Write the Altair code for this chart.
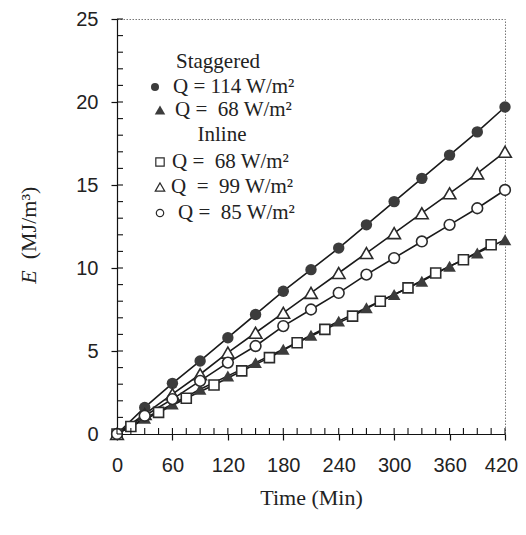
import altair as alt
import pandas as pd

# ---- data ----
t30 = [0, 30, 60, 90, 120, 150, 180, 210, 240, 270, 300, 330, 360, 390, 420]
t15 = [0, 15, 45, 75, 105, 135, 165, 195, 225, 255, 285, 315, 345, 375, 405]

stag_114 = [0, 1.6, 3.05, 4.4, 5.8, 7.2, 8.6, 9.9, 11.2, 12.6, 14.0, 15.4, 16.8, 18.2, 19.7]
stag_68 = [0, 0.95, 1.8, 2.7, 3.5, 4.3, 5.1, 5.95, 6.8, 7.6, 8.4, 9.2, 10.1, 10.9, 11.7]
inl_68 = [0, 0.45, 1.3, 2.15, 2.95, 3.8, 4.6, 5.5, 6.3, 7.1, 8.0, 8.8, 9.7, 10.5, 11.4]
inl_99 = [0, 1.2, 2.4, 3.6, 4.9, 6.1, 7.3, 8.5, 9.7, 10.9, 12.1, 13.3, 14.5, 15.7, 17.0]
inl_85 = [0, 1.1, 2.1, 3.2, 4.3, 5.3, 6.5, 7.5, 8.5, 9.6, 10.6, 11.6, 12.6, 13.6, 14.7]

x_ticks = [0, 60, 120, 180, 240, 300, 360, 420]
y_ticks = [0, 5, 10, 15, 20, 25]
x_minor = list(range(0, 421, 15))
y_minor = list(range(0, 26, 1))

legend_heads = ["Staggered", "Inline"]
legend_labels = ["Q = 114 W/m²", "Q =\u00a0 68 W/m²", "Q =\u00a0 68 W/m²",
                 "Q \u00a0=\u00a0 99 W/m²", "Q =\u00a0 85 W/m²"]

series = [
    ("s114", t30, stag_114, "circle", True, 130),
    ("s68", t30, stag_68, "triangle-up", True, 160),
    ("i68", t15, inl_68, "square", False, 100),
    ("i99", t30, inl_99, "triangle-up", False, 160),
    ("i85", t30, inl_85, "circle", False, 115),
]

rows = []
for name, ts, vs, *_ in series:
    for t, v in zip(ts, vs):
        rows.append({"series": name, "t": t, "E": v})
df = pd.DataFrame(rows)

W, H = 388, 415
xs = alt.Scale(domain=[0, 420], nice=False, zero=True)
ys = alt.Scale(domain=[0, 25], nice=False, zero=True)

INK = "#2b2b2b"
SERIF = "Liberation Serif"
SANS = "Liberation Sans"

xaxis = alt.Axis(values=x_ticks, title="Time (Min)", grid=False, tickSize=6,
                 labelPadding=15, labelFlush=False, labelOverlap=False,
                 labelOffset=alt.ExprRef(expr="datum.value == 420 ? -4 : 0"),
                 labelFont=SANS, labelFontSize=20,
                 labelColor="#222", titleFont=SERIF, titleFontSize=22,
                 titleFontWeight="normal", titleColor="#222", titlePadding=12,
                 domainColor="#111", tickColor="#111", domainWidth=1.2, tickWidth=1.2)
yaxis = alt.Axis(values=y_ticks, title=None, grid=False, tickSize=6,
                 labelPadding=13, labelFlush=False, labelFont=SANS, labelFontSize=20,
                 labelColor="#222", domainColor="#111", tickColor="#111",
                 domainWidth=1.2, tickWidth=1.2)

lines = alt.Chart(df).mark_line(color="#1a1a1a", strokeWidth=1.6).encode(
    x=alt.X("t:Q", scale=xs, axis=xaxis),
    y=alt.Y("E:Q", scale=ys, axis=yaxis),
    detail="series:N",
)

layers = [lines]
for name, ts, vs, shape, filled, size in series:
    d = df[df.series == name]
    if filled:
        m = alt.Chart(d).mark_point(shape=shape, filled=True, size=size,
                                    color="#3c3c3c", opacity=1)
    else:
        m = alt.Chart(d).mark_point(shape=shape, filled=True, size=size,
                                    fill="white", stroke=INK, strokeWidth=1.6, opacity=1)
    layers.append(m.encode(x=alt.X("t:Q", scale=xs), y=alt.Y("E:Q", scale=ys)))

# inward minor / major ticks
ymin = alt.Chart(pd.DataFrame({"v": y_minor})).mark_rule(color="#111", strokeWidth=1.1).encode(
    y=alt.Y("v:Q", scale=ys), x=alt.value(0), x2=alt.value(6))
xmin = alt.Chart(pd.DataFrame({"v": x_minor})).mark_rule(color="#111", strokeWidth=1.1).encode(
    x=alt.X("v:Q", scale=xs), y=alt.value(H), y2=alt.value(H - 6))
layers += [ymin, xmin]

# y title: italic E + (MJ/m³)
ytitle_E = alt.Chart(pd.DataFrame({"s": ["E"]})).mark_text(
    font=SERIF, fontSize=22, fontStyle="italic", angle=270, color="#222",
    align="center", baseline="middle").encode(
    text="s:N", x=alt.value(-88), y=alt.value(258))
ytitle_U = alt.Chart(pd.DataFrame({"s": ["(MJ/m³)"]})).mark_text(
    font=SERIF, fontSize=22, angle=270, color="#222",
    align="center", baseline="middle").encode(
    text="s:N", x=alt.value(-88), y=alt.value(204))
layers += [ytitle_E, ytitle_U]

# legend
head_pos = [(101, 43), (105, 116)]
for txt, (px, py) in zip(legend_heads, head_pos):
    layers.append(alt.Chart(pd.DataFrame({"s": [txt]})).mark_text(
        font=SERIF, fontSize=21, color="#222", align="center", baseline="middle").encode(
        text="s:N", x=alt.value(px), y=alt.value(py)))

row_pos = [(38, 56, 68), (43, 58, 91), (43, 55, 143), (43, 54, 168), (43, 61, 194)]
sym_size = [65, 110, 70, 90, 55]
for (name, ts, vs, shape, filled, size), lab, (sx, tx, py), ss in zip(series, legend_labels, row_pos, sym_size):
    if filled:
        sm = alt.Chart(pd.DataFrame({"s": [lab]})).mark_point(
            shape=shape, filled=True, size=ss, color="#3c3c3c", opacity=1)
    else:
        sm = alt.Chart(pd.DataFrame({"s": [lab]})).mark_point(
            shape=shape, filled=True, size=ss, fill="white", stroke=INK,
            strokeWidth=1.2, opacity=1)
    layers.append(sm.encode(x=alt.value(sx), y=alt.value(py)))
    layers.append(alt.Chart(pd.DataFrame({"s": [lab]})).mark_text(
        font=SERIF, fontSize=21, color="#222", align="left", baseline="middle").encode(
        text="s:N", x=alt.value(tx), y=alt.value(py)))

chart = alt.layer(*layers).properties(
    width=W, height=H,
    autosize=alt.AutoSizeParams(type="none"),
    padding={"left": 109, "top": 11, "right": 13, "bottom": 93},
    background="white",
).configure_view(
    stroke="#777", strokeDash=[1.5, 1.5], strokeWidth=1
)

chart.save("out.html", embed_options={"renderer": "svg", "actions": False})
